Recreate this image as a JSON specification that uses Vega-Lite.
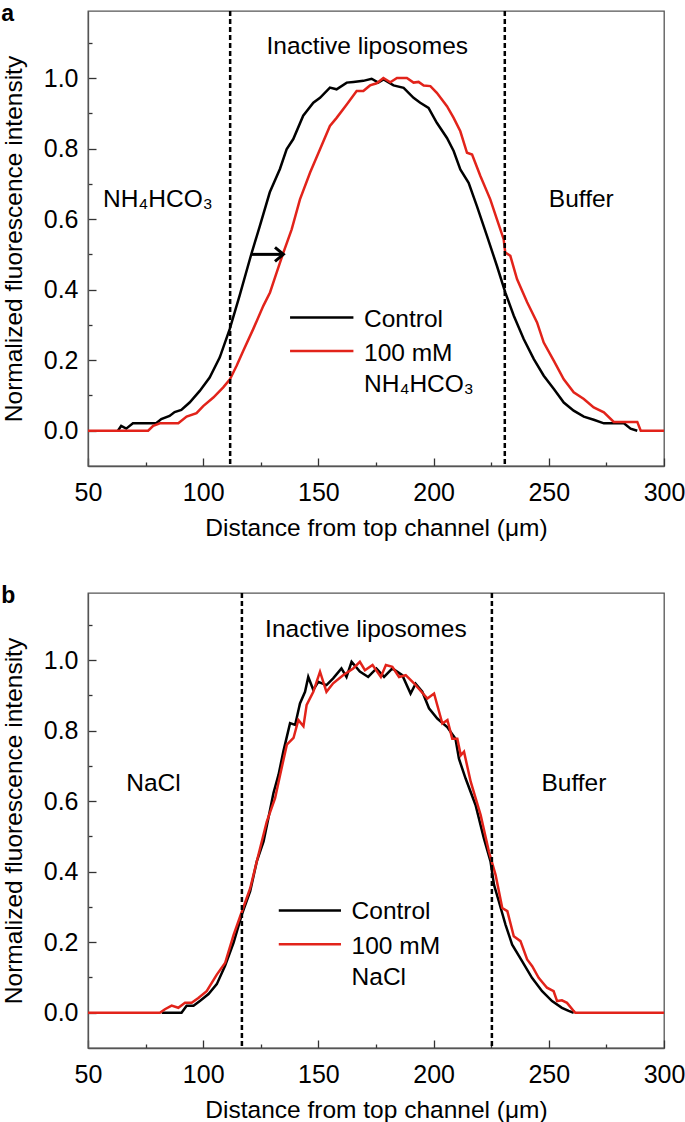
{
  "$schema": "https://vega.github.io/schema/vega-lite/v6.json",
  "padding": {"left": 0, "top": 2, "right": 0, "bottom": 0},
  "spacing": 43,
  "config": {
    "font": "Liberation Sans",
    "view": {"stroke": "#555555", "strokeWidth": 1.3},
    "axis": {"grid": false, "domainColor": "#555555", "domainWidth": 1.3, "tickColor": "#333333", "tickWidth": 1.3, "labelFont": "Liberation Sans", "labelFontSize": 25, "labelColor": "#000000", "titleFont": "Liberation Sans", "titleFontSize": 24.5, "titleFontWeight": "normal", "titleColor": "#000000", "labelFlush": false, "labelOverlap": false},
    "title": {"anchor": "start", "frame": "bounds", "fontSize": 23, "fontWeight": "bold", "font": "Liberation Sans", "offset": -16, "dx": 0, "color": "#000000"}
  },
  "datasets": {
    "panel_a": [
      {"series": "Control", "x": 63, "y": 0}, {"series": "Control", "x": 64.4, "y": 0.014}, {"series": "Control", "x": 66.6, "y": 0.006}, {"series": "Control", "x": 69.5, "y": 0.021}, {"series": "Control", "x": 79.6, "y": 0.021}, {"series": "Control", "x": 81.8, "y": 0.033}, {"series": "Control", "x": 85.4, "y": 0.042}, {"series": "Control", "x": 87.6, "y": 0.053}, {"series": "Control", "x": 90.5, "y": 0.059}, {"series": "Control", "x": 94.1, "y": 0.08}, {"series": "Control", "x": 98.5, "y": 0.113}, {"series": "Control", "x": 102.8, "y": 0.151}, {"series": "Control", "x": 107.2, "y": 0.208}, {"series": "Control", "x": 111.5, "y": 0.288}, {"series": "Control", "x": 115.8, "y": 0.383}, {"series": "Control", "x": 120.9, "y": 0.501}, {"series": "Control", "x": 124.6, "y": 0.581}, {"series": "Control", "x": 128.9, "y": 0.676}, {"series": "Control", "x": 133.3, "y": 0.742}, {"series": "Control", "x": 136.2, "y": 0.798}, {"series": "Control", "x": 139.1, "y": 0.827}, {"series": "Control", "x": 143.4, "y": 0.893}, {"series": "Control", "x": 147.8, "y": 0.93}, {"series": "Control", "x": 150.7, "y": 0.944}, {"series": "Control", "x": 155, "y": 0.973}, {"series": "Control", "x": 157.9, "y": 0.968}, {"series": "Control", "x": 162.3, "y": 0.987}, {"series": "Control", "x": 165.2, "y": 0.989}, {"series": "Control", "x": 169.5, "y": 0.992}, {"series": "Control", "x": 173.1, "y": 0.998}, {"series": "Control", "x": 176, "y": 0.987}, {"series": "Control", "x": 178.3, "y": 0.996}, {"series": "Control", "x": 182.6, "y": 0.979}, {"series": "Control", "x": 187, "y": 0.972}, {"series": "Control", "x": 191.3, "y": 0.944}, {"series": "Control", "x": 194.2, "y": 0.93}, {"series": "Control", "x": 197.8, "y": 0.915}, {"series": "Control", "x": 201.4, "y": 0.873}, {"series": "Control", "x": 205.8, "y": 0.83}, {"series": "Control", "x": 208.7, "y": 0.793}, {"series": "Control", "x": 211.6, "y": 0.741}, {"series": "Control", "x": 215.2, "y": 0.703}, {"series": "Control", "x": 218.8, "y": 0.637}, {"series": "Control", "x": 223.2, "y": 0.552}, {"series": "Control", "x": 227.5, "y": 0.467}, {"series": "Control", "x": 231.1, "y": 0.392}, {"series": "Control", "x": 234.8, "y": 0.326}, {"series": "Control", "x": 239.1, "y": 0.26}, {"series": "Control", "x": 243.5, "y": 0.203}, {"series": "Control", "x": 247.8, "y": 0.156}, {"series": "Control", "x": 252.2, "y": 0.118}, {"series": "Control", "x": 256.5, "y": 0.08}, {"series": "Control", "x": 260.8, "y": 0.057}, {"series": "Control", "x": 265.2, "y": 0.04}, {"series": "Control", "x": 269.5, "y": 0.031}, {"series": "Control", "x": 273.9, "y": 0.021}, {"series": "Control", "x": 282.6, "y": 0.021}, {"series": "Control", "x": 285.5, "y": 0.006}, {"series": "Control", "x": 288.4, "y": 0},
      {"series": "100 mM", "x": 50, "y": 0}, {"series": "100 mM", "x": 76.1, "y": 0}, {"series": "100 mM", "x": 78.3, "y": 0.014}, {"series": "100 mM", "x": 81.2, "y": 0.021}, {"series": "100 mM", "x": 89.2, "y": 0.021}, {"series": "100 mM", "x": 92.8, "y": 0.04}, {"series": "100 mM", "x": 97.1, "y": 0.05}, {"series": "100 mM", "x": 100, "y": 0.07}, {"series": "100 mM", "x": 104.4, "y": 0.094}, {"series": "100 mM", "x": 108.7, "y": 0.123}, {"series": "100 mM", "x": 111.6, "y": 0.146}, {"series": "100 mM", "x": 114.5, "y": 0.184}, {"series": "100 mM", "x": 117.4, "y": 0.227}, {"series": "100 mM", "x": 121.7, "y": 0.288}, {"series": "100 mM", "x": 126.1, "y": 0.354}, {"series": "100 mM", "x": 129, "y": 0.392}, {"series": "100 mM", "x": 131.9, "y": 0.449}, {"series": "100 mM", "x": 134.8, "y": 0.505}, {"series": "100 mM", "x": 138.4, "y": 0.571}, {"series": "100 mM", "x": 142, "y": 0.656}, {"series": "100 mM", "x": 146.4, "y": 0.732}, {"series": "100 mM", "x": 150.7, "y": 0.798}, {"series": "100 mM", "x": 155, "y": 0.864}, {"series": "100 mM", "x": 157.9, "y": 0.887}, {"series": "100 mM", "x": 162.3, "y": 0.925}, {"series": "100 mM", "x": 166.6, "y": 0.963}, {"series": "100 mM", "x": 169.5, "y": 0.963}, {"series": "100 mM", "x": 172.4, "y": 0.979}, {"series": "100 mM", "x": 175.3, "y": 0.985}, {"series": "100 mM", "x": 178.2, "y": 1.0}, {"series": "100 mM", "x": 181.2, "y": 0.988}, {"series": "100 mM", "x": 184.1, "y": 1.0}, {"series": "100 mM", "x": 188.4, "y": 1.0}, {"series": "100 mM", "x": 191.3, "y": 0.987}, {"series": "100 mM", "x": 193.5, "y": 0.989}, {"series": "100 mM", "x": 195.7, "y": 0.979}, {"series": "100 mM", "x": 198.6, "y": 0.977}, {"series": "100 mM", "x": 201.4, "y": 0.958}, {"series": "100 mM", "x": 205.8, "y": 0.92}, {"series": "100 mM", "x": 208.7, "y": 0.887}, {"series": "100 mM", "x": 211.6, "y": 0.849}, {"series": "100 mM", "x": 214.5, "y": 0.788}, {"series": "100 mM", "x": 216.7, "y": 0.783}, {"series": "100 mM", "x": 220.3, "y": 0.722}, {"series": "100 mM", "x": 224.6, "y": 0.656}, {"series": "100 mM", "x": 227.5, "y": 0.599}, {"series": "100 mM", "x": 230.4, "y": 0.543}, {"series": "100 mM", "x": 231.1, "y": 0.505}, {"series": "100 mM", "x": 233.3, "y": 0.496}, {"series": "100 mM", "x": 236.2, "y": 0.43}, {"series": "100 mM", "x": 240.6, "y": 0.364}, {"series": "100 mM", "x": 244.9, "y": 0.307}, {"series": "100 mM", "x": 247.8, "y": 0.25}, {"series": "100 mM", "x": 252.2, "y": 0.198}, {"series": "100 mM", "x": 256.5, "y": 0.146}, {"series": "100 mM", "x": 260.8, "y": 0.109}, {"series": "100 mM", "x": 265.2, "y": 0.09}, {"series": "100 mM", "x": 269.5, "y": 0.066}, {"series": "100 mM", "x": 273.9, "y": 0.052}, {"series": "100 mM", "x": 278.2, "y": 0.025}, {"series": "100 mM", "x": 288.4, "y": 0.025}, {"series": "100 mM", "x": 289.9, "y": 0}, {"series": "100 mM", "x": 300, "y": 0}
    ],
    "panel_b": [
      {"series": "Control", "x": 82, "y": 0}, {"series": "Control", "x": 90.6, "y": 0}, {"series": "Control", "x": 92.8, "y": 0.02}, {"series": "Control", "x": 95.8, "y": 0.02}, {"series": "Control", "x": 98.7, "y": 0.034}, {"series": "Control", "x": 102.3, "y": 0.053}, {"series": "Control", "x": 105.9, "y": 0.081}, {"series": "Control", "x": 109.5, "y": 0.133}, {"series": "Control", "x": 113.2, "y": 0.199}, {"series": "Control", "x": 116.8, "y": 0.279}, {"series": "Control", "x": 120.4, "y": 0.345}, {"series": "Control", "x": 123.3, "y": 0.43}, {"series": "Control", "x": 126.2, "y": 0.486}, {"series": "Control", "x": 128.3, "y": 0.552}, {"series": "Control", "x": 130.5, "y": 0.623}, {"series": "Control", "x": 132.7, "y": 0.675}, {"series": "Control", "x": 134.8, "y": 0.741}, {"series": "Control", "x": 137.7, "y": 0.821}, {"series": "Control", "x": 139.9, "y": 0.816}, {"series": "Control", "x": 142, "y": 0.877}, {"series": "Control", "x": 144.2, "y": 0.91}, {"series": "Control", "x": 145.6, "y": 0.952}, {"series": "Control", "x": 147.8, "y": 0.915}, {"series": "Control", "x": 149.9, "y": 0.938}, {"series": "Control", "x": 153.5, "y": 0.929}, {"series": "Control", "x": 156.4, "y": 0.948}, {"series": "Control", "x": 160, "y": 0.976}, {"series": "Control", "x": 162.2, "y": 0.952}, {"series": "Control", "x": 164.4, "y": 0.995}, {"series": "Control", "x": 168, "y": 0.967}, {"series": "Control", "x": 171.6, "y": 0.952}, {"series": "Control", "x": 175.2, "y": 0.976}, {"series": "Control", "x": 178.5, "y": 0.952}, {"series": "Control", "x": 182.1, "y": 0.976}, {"series": "Control", "x": 186.4, "y": 0.957}, {"series": "Control", "x": 190, "y": 0.905}, {"series": "Control", "x": 192.2, "y": 0.933}, {"series": "Control", "x": 195.1, "y": 0.91}, {"series": "Control", "x": 198, "y": 0.863}, {"series": "Control", "x": 201.6, "y": 0.834}, {"series": "Control", "x": 205.9, "y": 0.81}, {"series": "Control", "x": 209.5, "y": 0.777}, {"series": "Control", "x": 211, "y": 0.72}, {"series": "Control", "x": 213.9, "y": 0.664}, {"series": "Control", "x": 218.2, "y": 0.589}, {"series": "Control", "x": 221.8, "y": 0.495}, {"series": "Control", "x": 224.7, "y": 0.429}, {"series": "Control", "x": 226.2, "y": 0.363}, {"series": "Control", "x": 228.3, "y": 0.316}, {"series": "Control", "x": 231.2, "y": 0.25}, {"series": "Control", "x": 234.1, "y": 0.193}, {"series": "Control", "x": 238.4, "y": 0.146}, {"series": "Control", "x": 242.7, "y": 0.099}, {"series": "Control", "x": 247.1, "y": 0.061}, {"series": "Control", "x": 251.4, "y": 0.033}, {"series": "Control", "x": 255.7, "y": 0.014}, {"series": "Control", "x": 258.6, "y": 0.005}, {"series": "Control", "x": 260.8, "y": 0},
      {"series": "100 mM", "x": 50, "y": 0}, {"series": "100 mM", "x": 81.2, "y": 0}, {"series": "100 mM", "x": 83.4, "y": 0.01}, {"series": "100 mM", "x": 86.3, "y": 0.02}, {"series": "100 mM", "x": 89.2, "y": 0.014}, {"series": "100 mM", "x": 92.1, "y": 0.028}, {"series": "100 mM", "x": 95, "y": 0.028}, {"series": "100 mM", "x": 97.9, "y": 0.042}, {"series": "100 mM", "x": 101.5, "y": 0.061}, {"series": "100 mM", "x": 105.9, "y": 0.108}, {"series": "100 mM", "x": 109.5, "y": 0.141}, {"series": "100 mM", "x": 113.2, "y": 0.221}, {"series": "100 mM", "x": 116.8, "y": 0.287}, {"series": "100 mM", "x": 120.4, "y": 0.353}, {"series": "100 mM", "x": 123.3, "y": 0.43}, {"series": "100 mM", "x": 127.6, "y": 0.542}, {"series": "100 mM", "x": 131.2, "y": 0.608}, {"series": "100 mM", "x": 133.4, "y": 0.675}, {"series": "100 mM", "x": 136.3, "y": 0.76}, {"series": "100 mM", "x": 139.2, "y": 0.779}, {"series": "100 mM", "x": 141.3, "y": 0.83}, {"series": "100 mM", "x": 143.5, "y": 0.812}, {"series": "100 mM", "x": 144.9, "y": 0.873}, {"series": "100 mM", "x": 147.8, "y": 0.91}, {"series": "100 mM", "x": 150.7, "y": 0.967}, {"series": "100 mM", "x": 153.5, "y": 0.91}, {"series": "100 mM", "x": 156.4, "y": 0.934}, {"series": "100 mM", "x": 160.7, "y": 0.957}, {"series": "100 mM", "x": 165.1, "y": 0.976}, {"series": "100 mM", "x": 168, "y": 0.995}, {"series": "100 mM", "x": 170.2, "y": 0.971}, {"series": "100 mM", "x": 173.5, "y": 0.986}, {"series": "100 mM", "x": 177.1, "y": 0.952}, {"series": "100 mM", "x": 179.3, "y": 0.986}, {"series": "100 mM", "x": 182.1, "y": 0.981}, {"series": "100 mM", "x": 185, "y": 0.952}, {"series": "100 mM", "x": 187.9, "y": 0.957}, {"series": "100 mM", "x": 191.5, "y": 0.934}, {"series": "100 mM", "x": 197.3, "y": 0.891}, {"series": "100 mM", "x": 200.2, "y": 0.905}, {"series": "100 mM", "x": 203.8, "y": 0.82}, {"series": "100 mM", "x": 206, "y": 0.83}, {"series": "100 mM", "x": 208.1, "y": 0.777}, {"series": "100 mM", "x": 210.3, "y": 0.777}, {"series": "100 mM", "x": 211.8, "y": 0.73}, {"series": "100 mM", "x": 213.2, "y": 0.74}, {"series": "100 mM", "x": 216.1, "y": 0.655}, {"series": "100 mM", "x": 220.4, "y": 0.561}, {"series": "100 mM", "x": 224, "y": 0.457}, {"series": "100 mM", "x": 226.9, "y": 0.391}, {"series": "100 mM", "x": 229.8, "y": 0.297}, {"series": "100 mM", "x": 232, "y": 0.288}, {"series": "100 mM", "x": 234.8, "y": 0.217}, {"series": "100 mM", "x": 237.7, "y": 0.203}, {"series": "100 mM", "x": 240.6, "y": 0.151}, {"series": "100 mM", "x": 242.8, "y": 0.132}, {"series": "100 mM", "x": 245.6, "y": 0.099}, {"series": "100 mM", "x": 249.2, "y": 0.071}, {"series": "100 mM", "x": 252.1, "y": 0.061}, {"series": "100 mM", "x": 253.6, "y": 0.033}, {"series": "100 mM", "x": 255.7, "y": 0.035}, {"series": "100 mM", "x": 257.9, "y": 0.028}, {"series": "100 mM", "x": 260.8, "y": 0.005}, {"series": "100 mM", "x": 261.5, "y": 0}, {"series": "100 mM", "x": 300, "y": 0}
    ]
  },
  "vconcat": [
    {
      "title": {"text": "a"},
      "width": 576,
      "height": 455,
      "layer": [
        {
          "data": {"name": "panel_a"},
          "transform": [{"filter": "datum.series == 'Control'"}],
          "mark": {"type": "line", "strokeWidth": 2.5, "color": "#000000"},
          "encoding": {
            "x": {"field": "x", "type": "quantitative", "scale": {"domain": [50, 300], "nice": false, "zero": false},
              "axis": {"title": "Distance from top channel (μm)", "values": [50, 75, 100, 125, 150, 175, 200, 225, 250, 275, 300], "labelExpr": "datum.value % 50 == 0 ? datum.label : ''", "tickSize": {"condition": {"test": "datum.value % 50 == 0", "value": -8}, "value": -4}, "labelPadding": 22, "titlePadding": 7}},
            "y": {"field": "y", "type": "quantitative", "scale": {"domain": [-0.1, 1.19], "nice": false, "zero": false},
              "axis": {"title": "Normalized fluorescence intensity", "values": [0, 0.1, 0.2, 0.3, 0.4, 0.5, 0.6, 0.7, 0.8, 0.9, 1, 1.1], "labelExpr": "round(datum.value * 10) % 2 == 0 ? format(datum.value, '.1f') : ''", "tickSize": {"condition": {"test": "round(datum.value * 10) % 2 == 0", "value": -8}, "value": -4}, "labelPadding": 18, "titlePadding": 17}}
          }
        },
        {
          "data": {"name": "panel_a"},
          "transform": [{"filter": "datum.series == '100 mM'"}],
          "mark": {"type": "line", "strokeWidth": 2.5, "color": "#e2231a"},
          "encoding": {"x": {"field": "x", "type": "quantitative"}, "y": {"field": "y", "type": "quantitative"}}
        },
        {"data": {"values": [{}]}, "mark": {"type": "rule", "strokeDash": [5, 3], "strokeWidth": 2.5, "color": "#000000"}, "encoding": {"x": {"datum": 111.7, "type": "quantitative"}}},
        {"data": {"values": [{}]}, "mark": {"type": "rule", "strokeDash": [5, 3], "strokeWidth": 2.5, "color": "#000000"}, "encoding": {"x": {"datum": 230.9, "type": "quantitative"}}},
        {"data": {"values": [{}]}, "mark": {"type": "rule", "strokeWidth": 3, "color": "#000000"}, "encoding": {"x": {"datum": 121, "type": "quantitative"}, "x2": {"datum": 134}, "y": {"datum": 0.5, "type": "quantitative"}}},
        {"data": {"values": [{}]}, "mark": {"type": "point", "shape": "M-1.2,-1L0,0L-1.2,1", "filled": false, "strokeWidth": 3, "size": 196, "color": "#000000", "opacity": 1, "strokeJoin": "miter"}, "encoding": {"x": {"datum": 134.8, "type": "quantitative"}, "y": {"datum": 0.5, "type": "quantitative"}}},
        {"data": {"values": [{}]}, "mark": {"type": "text", "fontSize": 24.5, "align": "center", "baseline": "middle", "text": "Inactive liposomes"}, "encoding": {"x": {"datum": 171.2, "type": "quantitative"}, "y": {"datum": 1.089, "type": "quantitative"}}},
        {"data": {"values": [{}]}, "mark": {"type": "text", "fontSize": 24.5, "align": "left", "baseline": "alphabetic", "text": "NH₄HCO₃"}, "encoding": {"x": {"datum": 56.5, "type": "quantitative"}, "y": {"datum": 0.635, "type": "quantitative"}}},
        {"data": {"values": [{}]}, "mark": {"type": "text", "fontSize": 24.5, "align": "center", "baseline": "alphabetic", "text": "Buffer"}, "encoding": {"x": {"datum": 264.1, "type": "quantitative"}, "y": {"datum": 0.633, "type": "quantitative"}}},
        {"data": {"values": [{}]}, "mark": {"type": "rule", "strokeWidth": 2.5, "color": "#000000"}, "encoding": {"x": {"datum": 137.7, "type": "quantitative"}, "x2": {"datum": 165.2}, "y": {"datum": 0.321, "type": "quantitative"}}},
        {"data": {"values": [{}]}, "mark": {"type": "rule", "strokeWidth": 2.5, "color": "#e2231a"}, "encoding": {"x": {"datum": 137.7, "type": "quantitative"}, "x2": {"datum": 165.2}, "y": {"datum": 0.226, "type": "quantitative"}}},
        {"data": {"values": [{}]}, "mark": {"type": "text", "fontSize": 24.5, "align": "left", "baseline": "alphabetic", "text": "Control"}, "encoding": {"x": {"datum": 169.8, "type": "quantitative"}, "y": {"datum": 0.2955, "type": "quantitative"}}},
        {"data": {"values": [{}]}, "mark": {"type": "text", "fontSize": 24.5, "align": "left", "baseline": "alphabetic", "text": "100 mM"}, "encoding": {"x": {"datum": 169.8, "type": "quantitative"}, "y": {"datum": 0.198, "type": "quantitative"}}},
        {"data": {"values": [{}]}, "mark": {"type": "text", "fontSize": 24.5, "align": "left", "baseline": "alphabetic", "text": "NH₄HCO₃"}, "encoding": {"x": {"datum": 169.8, "type": "quantitative"}, "y": {"datum": 0.109, "type": "quantitative"}}}
      ]
    },
    {
      "title": {"text": "b"},
      "width": 576,
      "height": 455,
      "layer": [
        {
          "data": {"name": "panel_b"},
          "transform": [{"filter": "datum.series == 'Control'"}],
          "mark": {"type": "line", "strokeWidth": 2.5, "color": "#000000"},
          "encoding": {
            "x": {"field": "x", "type": "quantitative", "scale": {"domain": [50, 300], "nice": false, "zero": false},
              "axis": {"title": "Distance from top channel (μm)", "values": [50, 75, 100, 125, 150, 175, 200, 225, 250, 275, 300], "labelExpr": "datum.value % 50 == 0 ? datum.label : ''", "tickSize": {"condition": {"test": "datum.value % 50 == 0", "value": -8}, "value": -4}, "labelPadding": 22, "titlePadding": 7}},
            "y": {"field": "y", "type": "quantitative", "scale": {"domain": [-0.1, 1.19], "nice": false, "zero": false},
              "axis": {"title": "Normalized fluorescence intensity", "values": [0, 0.1, 0.2, 0.3, 0.4, 0.5, 0.6, 0.7, 0.8, 0.9, 1, 1.1], "labelExpr": "round(datum.value * 10) % 2 == 0 ? format(datum.value, '.1f') : ''", "tickSize": {"condition": {"test": "round(datum.value * 10) % 2 == 0", "value": -8}, "value": -4}, "labelPadding": 18, "titlePadding": 17}}
          }
        },
        {
          "data": {"name": "panel_b"},
          "transform": [{"filter": "datum.series == '100 mM'"}],
          "mark": {"type": "line", "strokeWidth": 2.5, "color": "#e2231a"},
          "encoding": {"x": {"field": "x", "type": "quantitative"}, "y": {"field": "y", "type": "quantitative"}}
        },
        {"data": {"values": [{}]}, "mark": {"type": "rule", "strokeDash": [5, 3], "strokeWidth": 2.5, "color": "#000000"}, "encoding": {"x": {"datum": 116.8, "type": "quantitative"}}},
        {"data": {"values": [{}]}, "mark": {"type": "rule", "strokeDash": [5, 3], "strokeWidth": 2.5, "color": "#000000"}, "encoding": {"x": {"datum": 225.3, "type": "quantitative"}}},
        {"data": {"values": [{}]}, "mark": {"type": "text", "fontSize": 24.5, "align": "center", "baseline": "middle", "text": "Inactive liposomes"}, "encoding": {"x": {"datum": 170.6, "type": "quantitative"}, "y": {"datum": 1.086, "type": "quantitative"}}},
        {"data": {"values": [{}]}, "mark": {"type": "text", "fontSize": 24.5, "align": "center", "baseline": "alphabetic", "text": "NaCl"}, "encoding": {"x": {"datum": 78.4, "type": "quantitative"}, "y": {"datum": 0.628, "type": "quantitative"}}},
        {"data": {"values": [{}]}, "mark": {"type": "text", "fontSize": 24.5, "align": "center", "baseline": "alphabetic", "text": "Buffer"}, "encoding": {"x": {"datum": 260.9, "type": "quantitative"}, "y": {"datum": 0.63, "type": "quantitative"}}},
        {"data": {"values": [{}]}, "mark": {"type": "rule", "strokeWidth": 2.5, "color": "#000000"}, "encoding": {"x": {"datum": 132.8, "type": "quantitative"}, "x2": {"datum": 159.8}, "y": {"datum": 0.29, "type": "quantitative"}}},
        {"data": {"values": [{}]}, "mark": {"type": "rule", "strokeWidth": 2.5, "color": "#e2231a"}, "encoding": {"x": {"datum": 132.8, "type": "quantitative"}, "x2": {"datum": 159.8}, "y": {"datum": 0.194, "type": "quantitative"}}},
        {"data": {"values": [{}]}, "mark": {"type": "text", "fontSize": 24.5, "align": "left", "baseline": "alphabetic", "text": "Control"}, "encoding": {"x": {"datum": 164.4, "type": "quantitative"}, "y": {"datum": 0.265, "type": "quantitative"}}},
        {"data": {"values": [{}]}, "mark": {"type": "text", "fontSize": 24.5, "align": "left", "baseline": "alphabetic", "text": "100 mM"}, "encoding": {"x": {"datum": 164.4, "type": "quantitative"}, "y": {"datum": 0.167, "type": "quantitative"}}},
        {"data": {"values": [{}]}, "mark": {"type": "text", "fontSize": 24.5, "align": "left", "baseline": "alphabetic", "text": "NaCl"}, "encoding": {"x": {"datum": 164.4, "type": "quantitative"}, "y": {"datum": 0.0775, "type": "quantitative"}}}
      ]
    }
  ]
}
